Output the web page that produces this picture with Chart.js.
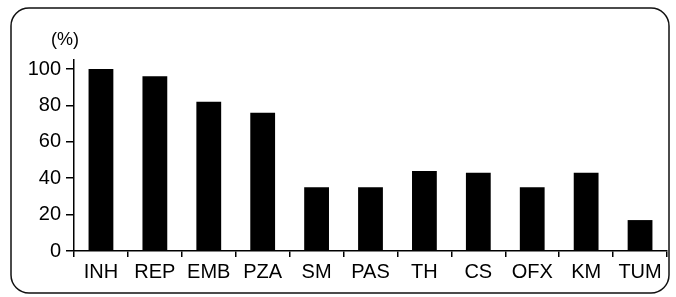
<!DOCTYPE html>
<html>
<head>
<meta charset="utf-8">
<script src="https://cdn.jsdelivr.net/npm/chart.js@4"></script>
<style>
  html, body { margin: 0; padding: 0; background: #fff; }
  #wrap { width: 676px; height: 297px; position: relative; }
</style>
</head>
<body>
<div id="wrap"><canvas id="myChart" width="676" height="297"></canvas></div>
<script>
"use strict";

// drugs on the x axis
const drugs = ["INH", "REP", "EMB", "PZA", "SM", "PAS", "TH", "CS", "OFX", "KM", "TUM"];

// percent values
const percents = [100, 96, 82, 76, 35, 35, 44, 43, 35, 43, 17];

// y axis ticks
const yTicks = [0, 20, 40, 60, 80, 100];

const fontFam = "'Liberation Sans', Arial, Helvetica, sans-serif";

// rounded frame + "(%)" label
const framePlugin = {
  id: "frame",
  beforeDraw(chart) {
    const ctx = chart.ctx;
    ctx.save();
    ctx.fillStyle = "#fff";
    ctx.fillRect(0, 0, chart.width, chart.height);
    ctx.strokeStyle = "#111";
    ctx.lineWidth = 1.5;
    ctx.beginPath();
    ctx.roundRect(11, 8, 658, 285, 18);
    ctx.stroke();
    ctx.restore();
  },
  afterDraw(chart) {
    const ctx = chart.ctx;
    const area = chart.chartArea;
    ctx.save();
    ctx.fillStyle = "#000";
    ctx.font = "18px " + fontFam;
    ctx.textAlign = "left";
    ctx.textBaseline = "middle";
    ctx.fillText("(%)", area.left - 23, area.top - 20);
    ctx.restore();
  }
};

const data = {
  labels: drugs,
  datasets: [{
    data: percents,
    backgroundColor: "#000",
    borderWidth: 0,
    barPercentage: 0.46,
    categoryPercentage: 1
  }]
};

const config = {
  type: "bar",
  data: data,
  plugins: [framePlugin],
  options: {
    responsive: false,
    animation: false,
    layout: { padding: { top: 60, right: 9, left: 0, bottom: 0 } },
    plugins: {
      legend: { display: false },
      tooltip: { enabled: false }
    },
    scales: {
      x: {
        offset: true,
        grid: {
          offset: true,
          drawOnChartArea: false,
          drawTicks: true,
          tickLength: 6,
          color: "#000",
          lineWidth: 1.5
        },
        border: { display: true, color: "#000", width: 1.5 },
        ticks: {
          color: "#000",
          padding: 3,
          maxRotation: 0,
          autoSkip: false,
          font: { family: fontFam, size: 20 }
        },
        afterFit(scale) { scale.height = 46; }
      },
      y: {
        min: 0,
        max: 105,
        grid: {
          drawOnChartArea: false,
          drawTicks: true,
          tickLength: 8,
          color: "#000",
          lineWidth: 1.5
        },
        border: { display: true, color: "#000", width: 1.5 },
        ticks: {
          color: "#000",
          padding: 5,
          font: { family: fontFam, size: 20 }
        },
        afterBuildTicks(scale) {
          scale.ticks = yTicks.map(v => ({ value: v }));
        },
        afterFit(scale) { scale.width = 74; }
      }
    }
  }
};

const myChart = new Chart(document.getElementById("myChart"), config);
</script>
</body>
</html>
